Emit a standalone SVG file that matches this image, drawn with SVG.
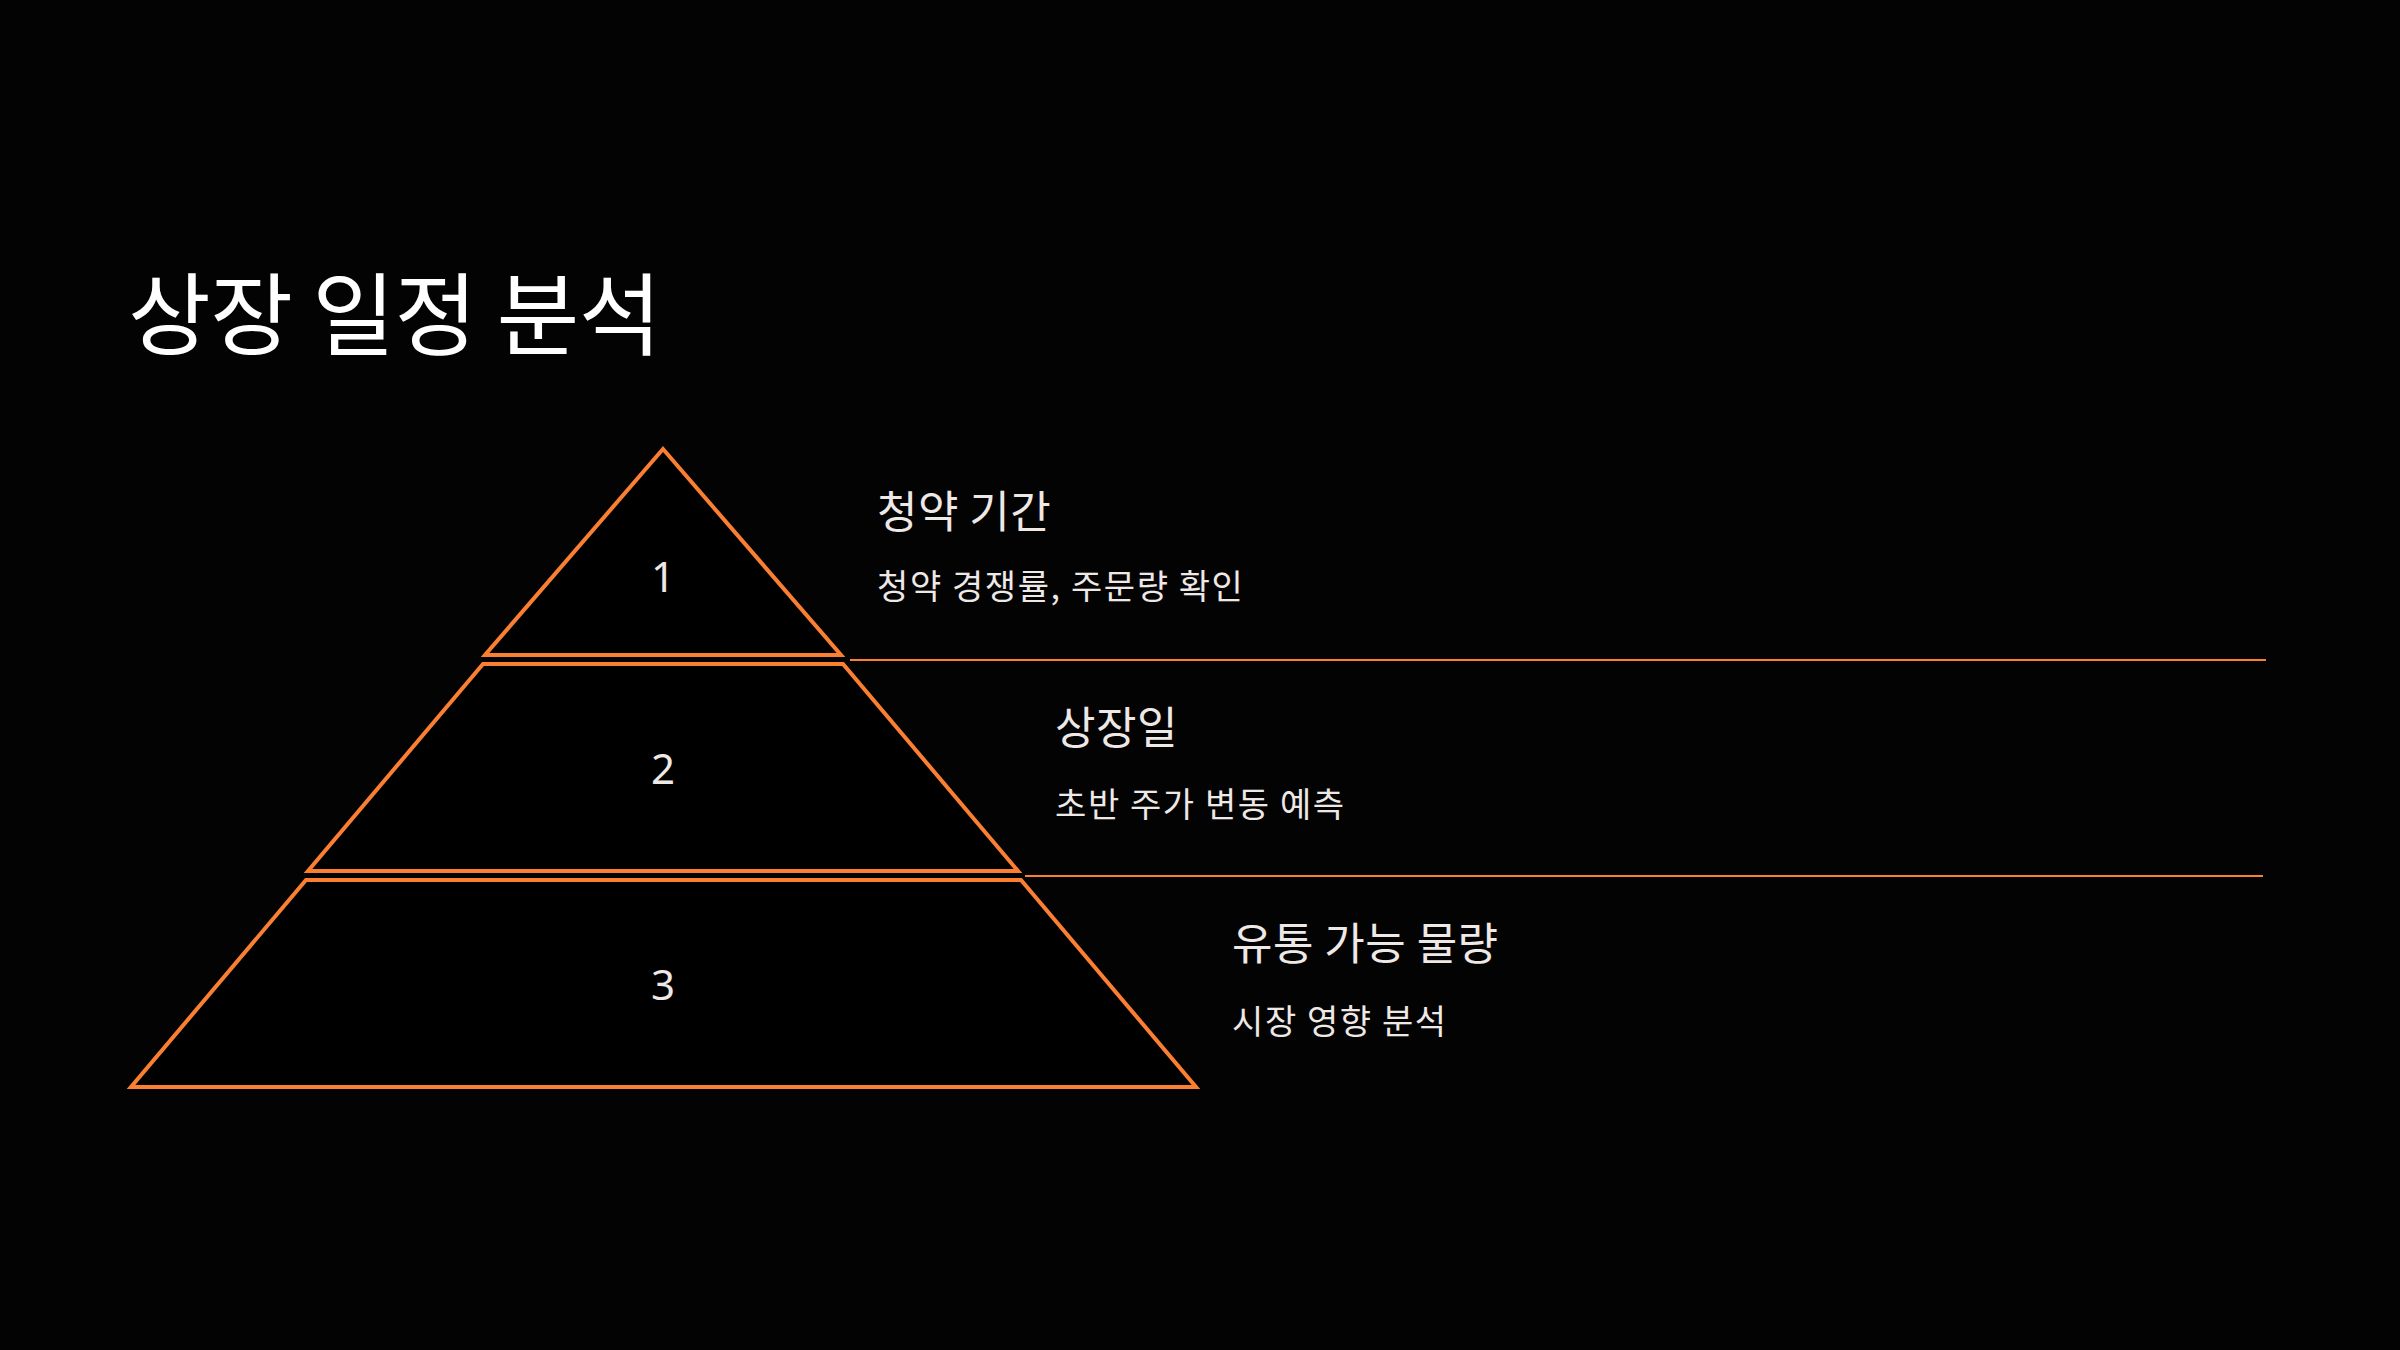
<svg xmlns="http://www.w3.org/2000/svg" width="2400" height="1350" viewBox="0 0 2400 1350">
  <style>
    .layer { fill: #000000; stroke: #FA7F32; stroke-width: 4; stroke-linejoin: miter; }
    .sep { stroke: #FA7F32; stroke-width: 2; }
    .num { font-family: "Noto Sans", "DejaVu Sans", sans-serif; font-size: 42px; fill: #EEE8E6; text-anchor: middle; }
    .title { font-family: "Noto Sans CJK KR", "Noto Sans", sans-serif; font-size: 90px; fill: #FFFFFF; letter-spacing: -0.5px; }
    .head { font-family: "Noto Sans CJK KR", "Noto Sans", sans-serif; font-size: 44px; fill: #EEE8E6; letter-spacing: 0.5px; }
    .sub { font-family: "Noto Sans CJK KR", "Noto Sans", sans-serif; font-size: 34px; fill: #EEE8E6; letter-spacing: 1.6px; }
  </style>
  <rect x="0" y="0" width="2400" height="1350" fill="#030303"/>
  <text id="title" class="title" x="128" y="348">상장 일정 분석</text>

  <g id="connectors">
    <line class="sep" x1="850" y1="660" x2="2266" y2="660"/>
    <line class="sep" x1="1025" y1="876" x2="2263" y2="876"/>
  </g>

  <g id="layer1">
    <polygon class="layer" points="663,449 841,655 485,655"/>
    <text class="num" x="663" y="592">1</text>
    <text class="head" x="877" y="528">청약 기간</text>
    <text class="sub" x="877" y="599">청약 경쟁률, 주문량 확인</text>
  </g>
  <g id="layer2">
    <polygon class="layer" points="483,664 843,664 1018,871 308,871"/>
    <text class="num" x="663" y="784">2</text>
    <text class="head" x="1055" y="744">상장일</text>
    <text class="sub" x="1055" y="817">초반 주가 변동 예측</text>
  </g>
  <g id="layer3">
    <polygon class="layer" points="306,880 1021,880 1196,1087 131,1087"/>
    <text class="num" x="663" y="1000">3</text>
    <text class="head" x="1232" y="960">유통 가능 물량</text>
    <text class="sub" x="1232" y="1034">시장 영향 분석</text>
  </g>
</svg>
